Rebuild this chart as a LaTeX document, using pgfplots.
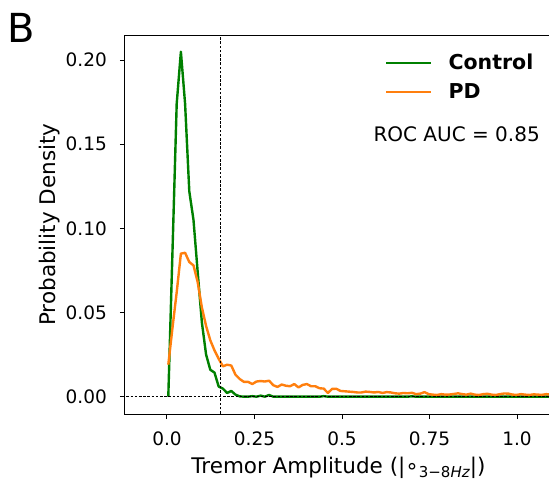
\documentclass[border=0pt]{standalone}
\usepackage{fontspec}
\setmainfont{DejaVu Sans}
\usepackage{pgfplots}
\pgfplotsset{compat=1.18}
\definecolor{mplgreen}{HTML}{008000}
\definecolor{mplorange}{HTML}{FF7F0E}
\begin{document}
\begin{tikzpicture}
\begin{axis}[
  scale only axis,
  width=427pt, height=379pt,
  xmin=-0.12, xmax=1.1,
  ymin=-0.0103, ymax=0.2149,
  clip mode=individual,
  axis line style={black, line width=1pt},
  tick align=outside,
  tick pos=left,
  major tick length=5pt,
  tick style={black, line width=1pt},
  /pgf/number format/assume math mode=true,
  xtick={0,0.25,0.5,0.75,1.0},
  xticklabels={0.0,0.25,0.5,0.75,1.0},
  ytick={0,0.05,0.10,0.15,0.20},
  yticklabels={0.00,0.05,0.10,0.15,0.20},
  ticklabel style={font=\fontsize{18.5}{22}\selectfont},
  xticklabel style={anchor=base, inner sep=0pt, yshift=-26pt},
  yticklabel style={anchor=east, inner sep=0pt, xshift=-13pt},
  every axis x label/.style={at={([yshift=-59pt]rel axis cs:0.5,0)}, anchor=base},
  every axis y label/.style={at={([xshift=-75pt]rel axis cs:0,0.5)}, rotate=90, anchor=center},
  label style={font=\fontsize{21.5}{26}\selectfont},
  xlabel={Tremor Amplitude (|∘\raisebox{-0.19em}{\fontsize{15}{15}\selectfont 3−8\textit{Hz}}|)},
  ylabel={Probability Density},
  legend style={at={(axis cs:0.6229,0.2026)}, anchor=north west, draw=none, fill=none,
    inner sep=0pt, font=\bfseries\fontsize{20.5}{24}\selectfont, row sep=11pt, column sep=16pt,
    nodes={inner sep=0pt, text height=14pt, text depth=4pt}, cells={anchor=base west}},
  legend image code/.code={\draw[#1] (0pt,6.7pt) -- (45pt,6.7pt);},
]
\addplot[mplgreen, line width=2.4pt, line join=round] coordinates {
(0.0037,0) (0.0157,0.0865) (0.0277,0.174) (0.0397,0.2050) (0.0517,0.174) (0.0637,0.122)
(0.0757,0.105) (0.0877,0.074) (0.0997,0.044) (0.1117,0.025) (0.1237,0.016) (0.1357,0.0143)
(0.1477,0.006) (0.1597,0.0048) (0.1717,0.0022) (0.1837,0.0034) (0.1957,0.0012) (0.2077,0.0002)
(0.2197,0) (0.2317,0) (0.2437,0.0003) (0.2557,0) (0.2677,0.0006) (0.2797,0) (0.2917,0.0010)
(0.3037,0) (0.3157,0) (0.4357,0) (0.4477,0.0003) (0.4597,0) (0.6877,0) (0.6997,0.0002) (0.7117,0) (1.1500,0)
};
\addlegendentry{Control}
\addplot[mplorange, line width=2.4pt, line join=round] coordinates {
(0.0037,0.019) (0.0157,0.041) (0.0277,0.062) (0.0397,0.0850) (0.0517,0.0855) (0.0637,0.080)
(0.0757,0.078) (0.0877,0.068) (0.0997,0.053) (0.1117,0.042) (0.1237,0.0335) (0.1357,0.0275)
(0.1477,0.0225) (0.1597,0.018) (0.1717,0.019) (0.1837,0.0185) (0.1957,0.013) (0.2077,0.0105)
(0.2197,0.0088) (0.2317,0.0088) (0.2437,0.0075) (0.2557,0.009) (0.2677,0.0093) (0.2797,0.009)
(0.2917,0.0095) (0.3037,0.0068) (0.3157,0.0058) (0.3277,0.0072) (0.3397,0.0065) (0.3517,0.0062)
(0.3637,0.0075) (0.3757,0.0055) (0.3877,0.0070) (0.3997,0.0075) (0.4117,0.0062) (0.4237,0.0062)
(0.4357,0.0050) (0.4477,0.0048) (0.4597,0.0022) (0.4717,0.0046) (0.4837,0.0047) (0.4957,0.0034)
(0.5077,0.0032) (0.5197,0.0030) (0.5317,0.0028) (0.5437,0.0025) (0.5557,0.0025) (0.5677,0.0030)
(0.5797,0.0028) (0.5917,0.0025) (0.6037,0.0028) (0.6157,0.0022) (0.6277,0.0027) (0.6397,0.0025)
(0.6517,0.0020) (0.6637,0.0018) (0.6757,0.0022) (0.6877,0.0020) (0.6997,0.0023) (0.7117,0.0015)
(0.7237,0.0018) (0.7357,0.0027) (0.7477,0.0015) (0.7597,0.0012) (0.7717,0.0010) (0.7837,0.0015)
(0.7957,0.0012) (0.8077,0.0013) (0.8197,0.0016) (0.8317,0.0020) (0.8437,0.0015) (0.8557,0.0012)
(0.8677,0.0018) (0.8797,0.0012) (0.8917,0.0010) (0.9037,0.0015) (0.9157,0.0017) (0.9277,0.0012)
(0.9397,0.0010) (0.9517,0.0015) (0.9637,0.0019) (0.9757,0.0018) (0.9877,0.0012) (0.9997,0.0011)
(1.0117,0.0015) (1.0237,0.0012) (1.0357,0.0010) (1.0477,0.0014) (1.0597,0.0012) (1.0717,0.0011)
(1.0837,0.0015) (1.0957,0.0012) (1.1077,0.0010)
};
\addlegendentry{PD}
\addplot[black, line width=0.7pt, dash pattern=on 2.6pt off 1.6pt, forget plot] coordinates {(-0.2,0) (1.2,0)};
\addplot[black, line width=0.7pt, dash pattern=on 2.6pt off 1.6pt, forget plot] coordinates {(0.1514,-0.05) (0.1514,0.3)};
\node[anchor=base east, inner sep=0pt, font=\fontsize{20}{24}\selectfont] at (axis cs:1.0657,0.1515) {ROC AUC = 0.85};
\node[anchor=base west, inner sep=0pt, font=\fontsize{40}{44}\selectfont] at ([xshift=-118pt, yshift=-7pt]rel axis cs:0,1) {B};
\coordinate (SW) at (rel axis cs:0,0);
\end{axis}
\pgfresetboundingbox
\path[use as bounding box] ([shift={(-125pt,-69pt)}]SW) rectangle ([shift={(424pt,414pt)}]SW);
\end{tikzpicture}
\end{document}
